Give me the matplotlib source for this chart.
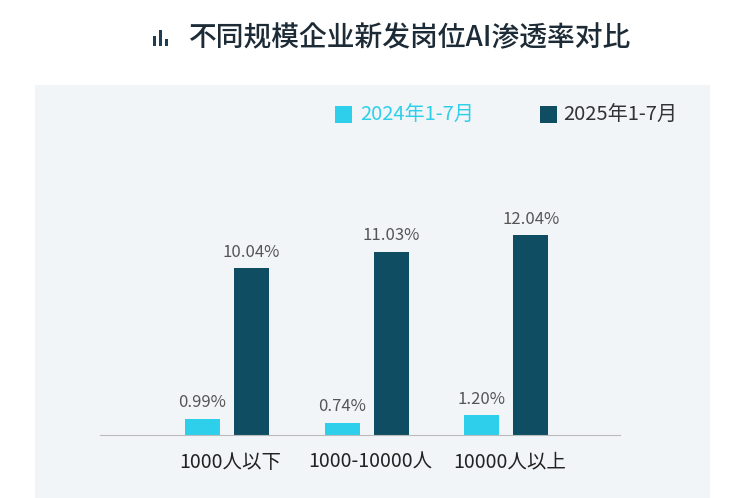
import matplotlib
matplotlib.use("Agg")
import matplotlib.pyplot as plt
from matplotlib.patches import Rectangle
from matplotlib import font_manager as fm

categories = ["1000人以下", "1000-10000人", "10000人以上"]
v2024 = [0.99, 0.74, 1.20]
v2025 = [10.04, 11.03, 12.04]
series = ["2024年1-7月", "2025年1-7月"]
title = "不同规模企业新发岗位AI渗透率对比"

cjk = [f for f in fm.findSystemFonts() if "CJK" in f or "cjk" in f.lower()]
for f in cjk:
    try:
        fm.fontManager.addfont(f)
    except Exception:
        pass
names = sorted({fm.FontProperties(fname=f).get_name() for f in cjk})
fam = [n for n in names if "SC" in n] + names + ["DejaVu Sans"]
plt.rcParams["font.family"] = fam

W, H = 744, 498
fig = plt.figure(figsize=(W/100, H/100), dpi=100)
fig.patch.set_facecolor("white")
c1, c2 = "#2ECFEA", "#0F4D63"

def fx(x): return x / W
def fy(y): return 1 - y / H

fig.patches.append(Rectangle((fx(35), 0), fx(675), fy(85), transform=fig.transFigure,
                             facecolor="#F2F5F8", edgecolor="none", zorder=-1))
for (x0, h) in [(153, 10), (159, 16), (165, 7)]:
    fig.patches.append(Rectangle((fx(x0), fy(46)), fx(3), h / H, transform=fig.transFigure,
                                 facecolor="#1D3E55", edgecolor="none"))
fig.text(fx(410), fy(38), title, ha="center", va="center", fontsize=20, color="#1D2B36",
         fontweight="medium")

fig.patches.append(Rectangle((fx(335), fy(123)), fx(17), 17 / H, transform=fig.transFigure,
                             facecolor=c1, edgecolor="none"))
fig.text(fx(360), fy(115), series[0], ha="left", va="center", fontsize=14.5, color=c1)
fig.patches.append(Rectangle((fx(540), fy(123)), fx(17), 17 / H, transform=fig.transFigure,
                             facecolor=c2, edgecolor="none"))
fig.text(fx(563), fy(115), series[1], ha="left", va="center", fontsize=14.5, color="#333333")

ax = fig.add_axes([fx(100), fy(435), fx(520), 300 / H])
ax.set_zorder(5)
ax.set_facecolor("none")
x = list(range(len(categories)))
w = 0.25
b1 = ax.bar([i - 0.2 for i in x], v2024, w, color=c1)
b2 = ax.bar([i + 0.15 for i in x], v2025, w, color=c2)
for bars, vals in ((b1, v2024), (b2, v2025)):
    for b, v in zip(bars, vals):
        ax.text(b.get_x() + b.get_width() / 2, v + 0.45, f"{v:.2f}%", ha="center", va="bottom",
                fontsize=12, color="#555555")
ax.set_xlim(-0.929, 2.786)
ax.set_ylim(0, 18.07)
ax.set_yticks([])
ax.set_xticks(x)
ax.set_xticklabels(categories, fontsize=14, color="#222222")
ax.tick_params(axis="x", length=0, pad=12)
for s in ["top", "right", "left"]:
    ax.spines[s].set_visible(False)
ax.spines["bottom"].set_color("#BBBBBB")

fig.savefig("out.png", dpi=100)
